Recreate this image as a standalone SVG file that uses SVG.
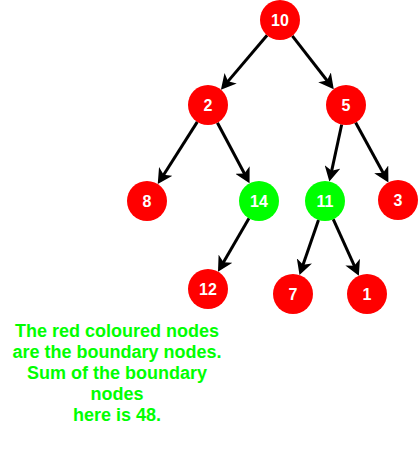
<svg xmlns="http://www.w3.org/2000/svg" width="419" height="451" viewBox="0 0 419 451">
<style>
.n circle{stroke:none}
.r circle{fill:#ff0000}
.g circle{fill:#00ff00}
.n text{font-family:"Liberation Sans",Arial,sans-serif;font-weight:bold;font-size:16px;fill:#ffffff;text-anchor:middle;dominant-baseline:central}
.e line{stroke:#000;stroke-width:3;marker-end:url(#ah)}
.cap{font-family:"Liberation Sans",Arial,sans-serif;font-weight:bold;font-size:18px;fill:#00ff00;text-anchor:middle}
</style>
<defs>
<marker id="ah" viewBox="0 0 16 16" refX="11" refY="8" markerWidth="16" markerHeight="16" markerUnits="userSpaceOnUse" orient="auto">
<path d="M15,8 L0,0 L4,8 L0,16 Z" fill="#000"/>
</marker>
</defs>
<rect width="419" height="451" fill="#fff"/>
<g id="edges" class="e">
<line x1="267.1" y1="35.3" x2="223.5" y2="86.6"/>
<line x1="292.3" y1="35.8" x2="331.3" y2="86.0"/>
<line x1="197.3" y1="121.9" x2="159.9" y2="180.7"/>
<line x1="217.4" y1="122.7" x2="247.7" y2="179.8"/>
<line x1="341.7" y1="124.5" x2="330.2" y2="177.6"/>
<line x1="355.6" y1="122.5" x2="386.5" y2="179.0"/>
<line x1="249" y1="218.3" x2="220" y2="268.2"/>
<line x1="318.5" y1="219.9" x2="300.8" y2="271.3"/>
<line x1="333.2" y1="219.2" x2="357.2" y2="272.1"/>
</g>
<g id="n10" class="n r"><circle cx="280" cy="20" r="20"/><text x="280" y="20">10</text></g>
<g id="n2" class="n r"><circle cx="208" cy="105" r="20"/><text x="208" y="105">2</text></g>
<g id="n5" class="n r"><circle cx="346" cy="105" r="20"/><text x="346" y="105">5</text></g>
<g id="n8" class="n r"><circle cx="147" cy="201" r="20"/><text x="147" y="201">8</text></g>
<g id="n14" class="n g"><circle cx="259" cy="201" r="20"/><text x="259" y="201">14</text></g>
<g id="n11" class="n g"><circle cx="325" cy="201" r="20"/><text x="325" y="201">11</text></g>
<g id="n3" class="n r"><circle cx="398" cy="200" r="20"/><text x="398" y="200">3</text></g>
<g id="n12" class="n r"><circle cx="208" cy="289" r="20"/><text x="208" y="289">12</text></g>
<g id="n7" class="n r"><circle cx="293" cy="294" r="20"/><text x="293" y="294">7</text></g>
<g id="n1" class="n r"><circle cx="367" cy="294" r="20"/><text x="367" y="294">1</text></g>
<g id="caption" class="cap">
<text x="117" y="337">The red coloured nodes</text>
<text x="117" y="358">are the boundary nodes.</text>
<text x="117" y="379">Sum of the boundary</text>
<text x="117" y="400">nodes</text>
<text x="117" y="421">here is 48.</text>
</g>
</svg>
